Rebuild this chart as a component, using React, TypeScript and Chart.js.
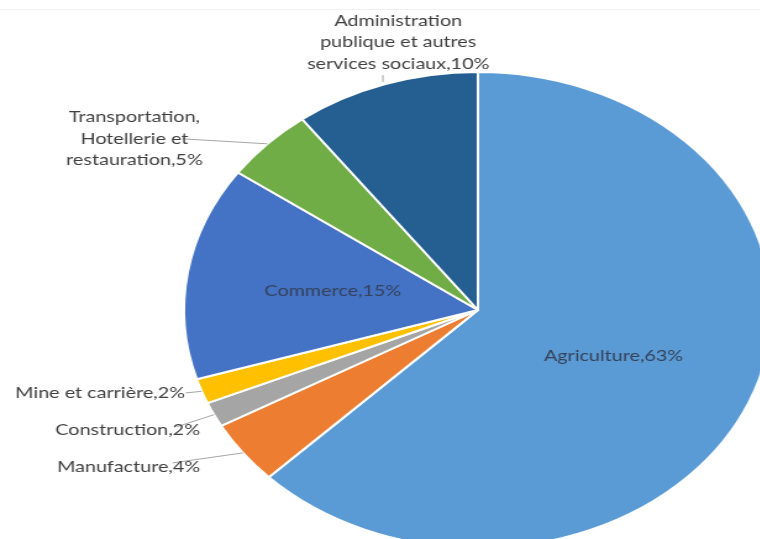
import { useEffect, useRef } from 'react';
import Chart, { ChartConfiguration, Plugin } from 'chart.js/auto';

// sector names (one entry per line of the label)
const categories: string[][] = [
  ['Agriculture'],
  ['Manufacture'],
  ['Construction'],
  ['Mine et carrière'],
  ['Commerce'],
  ['Transportation,', 'Hotellerie et', 'restauration'],
  ['Administration', 'publique et autres', 'services sociaux'],
];
// share of employment, %
const shares = [62.6, 4.3, 1.7, 1.7, 14.5, 5.0, 10.2];

const colors = ['#5B9BD5', '#ED7D31', '#A5A5A5', '#FFC000', '#4472C4', '#70AD47', '#255E91'];

// the original picture is stretched horizontally
const STRETCH = 1.235;
const BASE_W = 774;
const BASE_H = 620;

type Place =
  | { kind: 'inside'; f: number }
  | { kind: 'outside'; leader: [number, number, number, number]; text: [number, number]; align: CanvasTextAlign };

// label placement relative to the outer edge point of each slice
const places: Place[] = [
  { kind: 'inside', f: 0.5 },
  { kind: 'outside', leader: [0, 0, -57, 10], text: [-34.6, 14], align: 'right' },
  { kind: 'outside', leader: [0, 0, -30, 12], text: [-11.3, 15.3], align: 'right' },
  { kind: 'outside', leader: [0, 0, -13, 1.6], text: [-13.5, 1.6], align: 'right' },
  { kind: 'inside', f: 0.5 },
  { kind: 'outside', leader: [0, 0, -69, -5], text: [-107.7, -5], align: 'center' },
  { kind: 'outside', leader: [-2, -2, -2, -9], text: [10.4, -42], align: 'center' },
];

const LINE_H = 21.5;

const labelPlugin: Plugin<'pie'> = {
  id: 'sliceLabels',
  afterDatasetsDraw(chart) {
    const ctx = chart.ctx;
    const meta = chart.getDatasetMeta(0);
    ctx.save();
    ctx.font = '16px Lato';
    ctx.textBaseline = 'middle';
    meta.data.forEach((el, i) => {
      const { x, y, startAngle, endAngle, outerRadius } = (el as any).getProps(
        ['x', 'y', 'startAngle', 'endAngle', 'outerRadius'],
        true
      );
      const mid = (startAngle + endAngle) / 2;
      const lines = [...categories[i]];
      lines[lines.length - 1] += ',' + Math.round(shares[i]) + '%';
      const p = places[i];
      let tx: number;
      let ty: number;
      if (p.kind === 'inside') {
        tx = x + Math.cos(mid) * outerRadius * p.f;
        ty = y + Math.sin(mid) * outerRadius * p.f;
        ctx.textAlign = 'center';
        ctx.fillStyle = '#34425a';
      } else {
        const ex = x + Math.cos(mid) * outerRadius;
        const ey = y + Math.sin(mid) * outerRadius;
        ctx.strokeStyle = '#a6a6a6';
        ctx.lineWidth = 1;
        ctx.beginPath();
        ctx.moveTo(ex + p.leader[0], ey + p.leader[1]);
        ctx.lineTo(ex + p.leader[2], ey + p.leader[3]);
        ctx.stroke();
        tx = ex + p.text[0];
        ty = ey + p.text[1];
        ctx.textAlign = p.align;
        ctx.fillStyle = '#404040';
      }
      lines.forEach((line, j) => {
        ctx.fillText(line, tx, ty + (j - (lines.length - 1) / 2) * LINE_H);
      });
    });
    ctx.restore();
  },
};

const SectorPie = () => {
  const chartRef = useRef<HTMLCanvasElement>(null);
  const chartInstance = useRef<Chart | null>(null);

  useEffect(() => {
    document.body.style.margin = '0';
    if (chartInstance.current) {
      chartInstance.current.destroy();
    }

    const config: ChartConfiguration<'pie', number[], string[]> = {
      type: 'pie',
      data: {
        labels: categories,
        datasets: [
          {
            data: shares,
            backgroundColor: colors,
            borderColor: '#ffffff',
            borderWidth: 2,
          },
        ],
      },
      options: {
        animation: false,
        responsive: true,
        maintainAspectRatio: false,
        layout: { padding: { top: 71, bottom: 71, left: 148, right: 148 } },
        plugins: {
          legend: { display: false },
          tooltip: { enabled: false },
        },
      },
      plugins: [labelPlugin],
    };

    if (chartRef.current) {
      const ctx = chartRef.current.getContext('2d');
      if (ctx) {
        chartInstance.current = new Chart(ctx, config);
      }
    }

    return () => {
      if (chartInstance.current) {
        chartInstance.current.destroy();
        chartInstance.current = null;
      }
    };
  }, []);

  return (
    <div style={{ position: 'relative', width: 760, height: 539, overflow: 'hidden', background: '#fff' }}>
      <div style={{ position: 'absolute', top: 9, left: 0, width: 760, height: 1, background: '#f1f1f1' }} />
      <div
        style={{
          position: 'absolute',
          left: 0,
          top: 0,
          width: BASE_W,
          height: BASE_H,
          transform: `scaleX(${STRETCH})`,
          transformOrigin: '0 0',
        }}
      >
        <canvas ref={chartRef}></canvas>
      </div>
    </div>
  );
};

export default function App() {
  return <SectorPie />;
}
